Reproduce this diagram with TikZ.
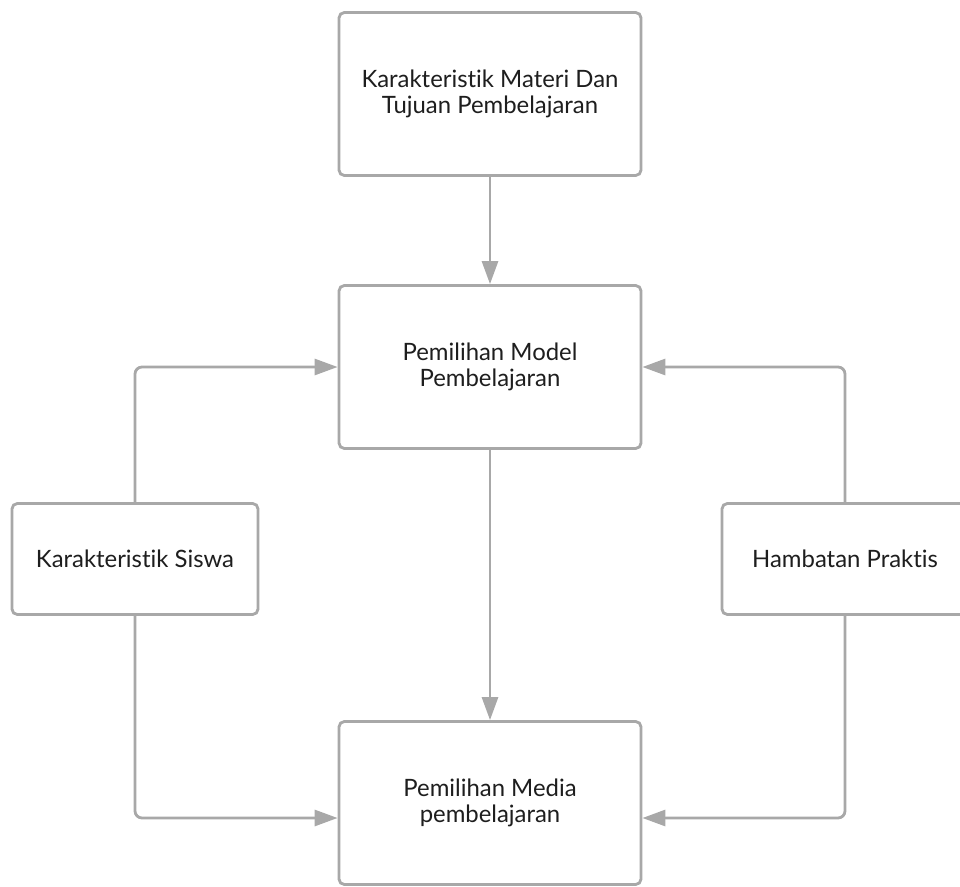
\documentclass[tikz,border=0pt]{standalone}
\usepackage{fontspec}
\setmainfont{Lato}[Ligatures={CommonOff}]
\usepackage{tikz}
\usetikzlibrary{positioning, arrows.meta}
\definecolor{linegray}{HTML}{A8A8A8}
\definecolor{textdark}{HTML}{1E1E1E}

\begin{document}
\begin{tikzpicture}[x=0.02cm, y=-0.02cm,
        box/.style = {draw=linegray, line width=1.6pt, rounded corners=3pt, fill=white,
            align=center, text=textdark, inner sep=0pt,
            font=\fontsize{13.6}{14.8}\selectfont},
        bigbox/.style = {box, minimum width=6.04cm, minimum height=3.26cm},
        sidebox/.style = {box, minimum width=4.92cm, minimum height=2.22cm},
        link/.style = {draw=linegray, line width=1.6pt, rounded corners=4pt,
            -{Triangle[length=0.46cm, width=0.32cm]}}]
    \useasboundingbox (0,0) rectangle (960,886);
        \node [bigbox] (materi) at (490,94) {Karakteristik Materi Dan\\Tujuan Pembelajaran};
        \node [bigbox] (model) at (490,367) {Pemilihan Model\\Pembelajaran};
        \node [bigbox] (media) at (490,803) {Pemilihan Media\\pembelajaran};
        \node [sidebox] (siswa) at (135,559) {Karakteristik Siswa};
        \node [sidebox] (hambatan) at (845,559) {Hambatan Praktis};

        \draw [link] (materi) -- (model);
        \draw [link] (model) -- (media);
        \draw [link] (siswa.north) |- (model.west);
        \draw [link] (hambatan.north) |- (model.east);
        \draw [link] (siswa.south) |- ([yshift=-0.3cm]media.west);
        \draw [link] (hambatan.south) |- ([yshift=-0.3cm]media.east);
    \end{tikzpicture}
\end{document}
